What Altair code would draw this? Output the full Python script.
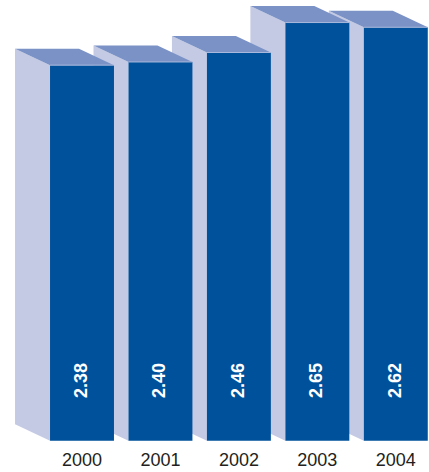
import altair as alt
import pandas as pd

years = ["2000", "2001", "2002", "2003", "2004"]
values = [2.38, 2.40, 2.46, 2.65, 2.62]

W, H = 429, 472
# geometry (in data units)
half = 0.4076          # half front width in category steps
ddx = -0.446           # depth offset x (category steps)
ddy = 0.1046           # depth offset y (value units)

front, side, top = [], [], []
for i, (yr, v) in enumerate(zip(years, values)):
    order = len(years) - i
    front.append(dict(year=yr, v=v, x=i - half, x2=i + half, y=0, y2=v, lab=f"{v:.2f}", xc=i))
    # side face: two points, left (back) and right (front)
    side.append(dict(year=yr, x=i - half + ddx, yt=v + ddy, yb=ddy))
    side.append(dict(year=yr, x=i - half, yt=v, yb=0))
    # top face: horizontal area, two points
    top.append(dict(year=yr, yy=v + ddy, xl=i - half + ddx, xr=i + half + ddx))
    top.append(dict(year=yr, yy=v, xl=i - half, xr=i + half))

xs = alt.Scale(domain=[-1.0452, 4.4232], range=[0, W], nice=False, zero=False)
ys = alt.Scale(domain=[-0.1984, 2.7928], range=[H, 0], nice=False, zero=False)

FRONT = "#00519b"
TOP = "#7a92c6"
SIDE = "#c4cae3"

side_layer = alt.Chart(pd.DataFrame(side)).mark_area(color=SIDE, interpolate="linear").encode(
    x=alt.X("x:Q", scale=xs, axis=None),
    y=alt.Y("yt:Q", scale=ys, axis=None),
    y2="yb:Q",
    detail="year:N",
)
top_layer = alt.Chart(pd.DataFrame(top)).mark_area(color=TOP, orient="horizontal", interpolate="linear").encode(
    y=alt.Y("yy:Q", scale=ys, axis=None),
    x=alt.X("xl:Q", scale=xs, axis=None),
    x2="xr:Q",
    detail="year:N",
)
fdf = pd.DataFrame(front)
front_layer = alt.Chart(fdf).mark_rect(color=FRONT).encode(
    x=alt.X("x:Q", scale=xs, axis=None),
    x2="x2:Q",
    y=alt.Y("y:Q", scale=ys, axis=None),
    y2="y2:Q",
)
edge_layer = alt.Chart(fdf).mark_rule(color="#a9b8dc", strokeWidth=1).encode(
    x=alt.X("x:Q", scale=xs, axis=None),
    x2="x2:Q",
    y=alt.Y("y2:Q", scale=ys, axis=None),
)
val_layer = alt.Chart(fdf).mark_text(
    color="white", fontWeight="bold", fontSize=18, font="Liberation Sans",
    angle=270, align="center", baseline="middle", dy=0, dx=0,
).encode(
    x=alt.X("xc:Q", scale=xs, axis=None),
    y=alt.Y("y:Q", scale=ys, axis=None),
    text="lab:N",
).transform_calculate(y="0.3815")
year_layer = alt.Chart(fdf).mark_text(
    color="#231f20", fontSize=18, font="Liberation Sans", align="center", baseline="alphabetic", dy=25.3,
).encode(
    x=alt.X("xc:Q", scale=xs, axis=None),
    y=alt.Y("y:Q", scale=ys, axis=None),
    text="year:N",
)

chart = alt.layer(side_layer, top_layer, front_layer, edge_layer, val_layer, year_layer).properties(
    width=W, height=H, padding=0, autosize=alt.AutoSizeParams(type="none"),
).configure_view(stroke=None)

chart.save("out.html", embed_options={"renderer": "svg", "actions": False})
